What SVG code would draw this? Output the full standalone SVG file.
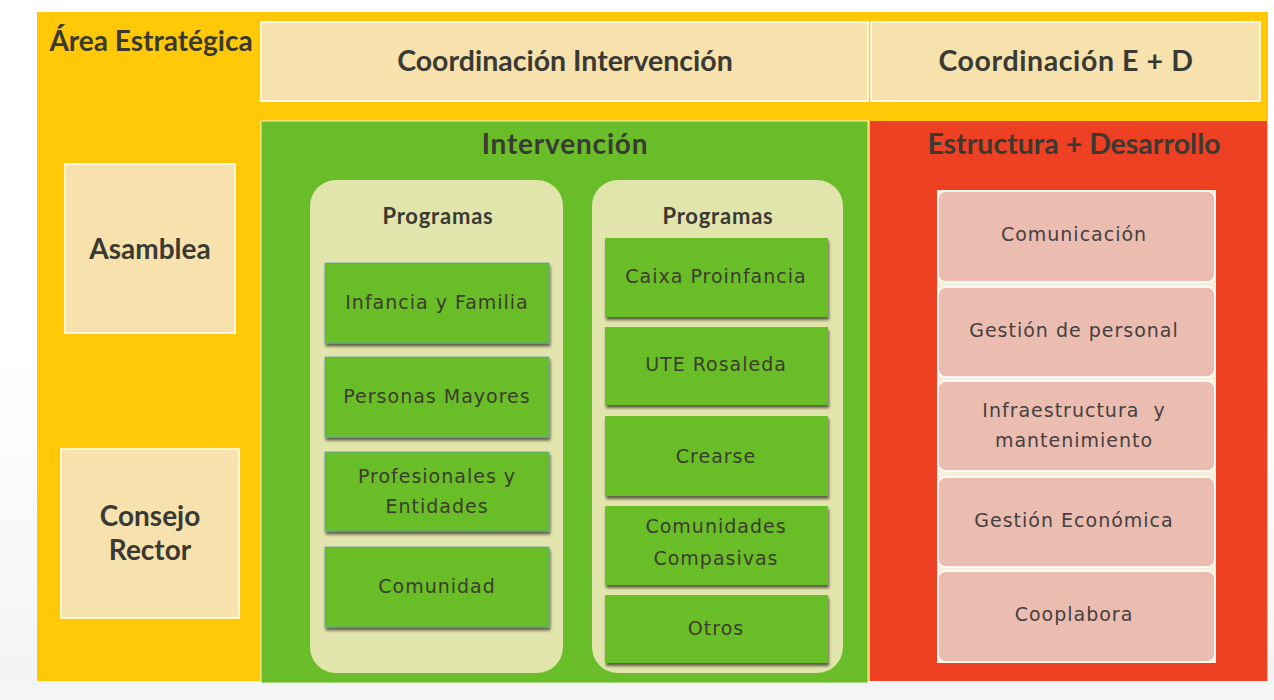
<svg xmlns="http://www.w3.org/2000/svg" width="1274" height="700" viewBox="0 0 1274 700">
<defs>
<filter id="sh" x="-10%" y="-10%" width="125%" height="130%">
<feGaussianBlur in="SourceAlpha" stdDeviation="1.5"/>
<feOffset dx="1" dy="3" result="b"/>
<feComponentTransfer><feFuncA type="linear" slope="0.6"/></feComponentTransfer>
<feMerge><feMergeNode/><feMergeNode in="SourceGraphic"/></feMerge>
</filter>
<linearGradient id="bg" x1="0" y1="0" x2="0" y2="1">
<stop offset="0" stop-color="#ffffff"/>
<stop offset="0.5" stop-color="#ffffff"/>
<stop offset="1" stop-color="#f3f3f3"/>
</linearGradient>
</defs>
<style>
.hd{font-family:Lato,"Open Sans",sans-serif;font-weight:bold;fill:#3a3a33;text-anchor:middle}
.bx{font-family:"DejaVu Sans",Verdana,sans-serif;fill:#3a3d2c;text-anchor:middle;font-size:19px;letter-spacing:1px}
.rb{font-family:"DejaVu Sans",Verdana,sans-serif;fill:#454040;text-anchor:middle;font-size:19px;letter-spacing:1px}
.cream{fill:#f7e2ae;stroke:#ffffff;stroke-width:1.5}
.gbox{fill:#69bd28;stroke:#5f9fb0;stroke-width:0.8;filter:url(#sh)}
.panel{fill:#e2e5ab}
.rbox{fill:#ebbcb0;stroke:#ffffff;stroke-width:1.5}
</style>
<rect x="0" y="0" width="1274" height="700" fill="url(#bg)"/>
<rect x="0" y="683" width="1274" height="17" fill="#f5f5f5"/>
<g id="frame">
<rect x="37" y="12" width="1231" height="669" fill="#ffc907"/>
</g>
<g id="area-estrategica">
<text class="hd" x="151" y="51" font-size="28">Área Estratégica</text>
</g>
<g id="coord-intervencion">
<rect class="cream" x="261" y="22" width="607" height="79"/>
<text class="hd" x="565" y="71" font-size="28.5">Coordinación Intervención</text>
</g>
<g id="coord-ed">
<rect class="cream" x="871" y="22" width="389" height="79"/>
<text class="hd" x="1066" y="71" font-size="28.5" letter-spacing="0.6">Coordinación E + D</text>
</g>
<g id="asamblea">
<rect class="cream" x="65" y="164" width="170" height="169"/>
<text class="hd" x="150" y="259" font-size="28">Asamblea</text>
</g>
<g id="consejo-rector">
<rect class="cream" x="61" y="449" width="178" height="169"/>
<text class="hd" x="150" y="526" font-size="28">Consejo</text>
<text class="hd" x="150" y="560" font-size="28">Rector</text>
</g>
<g id="intervencion">
<rect x="261" y="121" width="607" height="562" fill="#69bd28" stroke="#e8f5d8" stroke-width="1"/>
<text class="hd" x="565" y="154" font-size="28" letter-spacing="0.8">Intervención</text>
</g>
<g id="programas-1">
<rect class="panel" x="310" y="180" width="253" height="493" rx="26"/>
<text class="hd" x="438" y="224" font-size="22" letter-spacing="0.8">Programas</text>
</g>
<g id="programas-2">
<rect class="panel" x="592" y="180" width="251" height="493" rx="26"/>
<text class="hd" x="718" y="224" font-size="22" letter-spacing="0.8">Programas</text>
</g>
<g id="infancia"><rect class="gbox" x="325" y="263" width="224" height="80"/><text class="bx" x="437" y="309">Infancia y Familia</text></g>
<g id="mayores"><rect class="gbox" x="325" y="357" width="224" height="80"/><text class="bx" x="437" y="403">Personas Mayores</text></g>
<g id="profesionales"><rect class="gbox" x="325" y="452" width="224" height="79"/><text class="bx" x="437" y="483">Profesionales y</text><text class="bx" x="437" y="513">Entidades</text></g>
<g id="comunidad"><rect class="gbox" x="325" y="547" width="224" height="80"/><text class="bx" x="437" y="593">Comunidad</text></g>
<g id="caixa"><rect class="gbox" x="605" y="238" width="223" height="79" style="stroke:none"/><text class="bx" x="716" y="283">Caixa Proinfancia</text></g>
<g id="ute"><rect class="gbox" x="605" y="327" width="223" height="78" style="stroke:none"/><text class="bx" x="716" y="371">UTE Rosaleda</text></g>
<g id="crearse"><rect class="gbox" x="605" y="416" width="223" height="80" style="stroke:none"/><text class="bx" x="716" y="463">Crearse</text></g>
<g id="compasivas"><rect class="gbox" x="605" y="506" width="223" height="79" style="stroke:none"/><text class="bx" x="716" y="533">Comunidades</text><text class="bx" x="716" y="565">Compasivas</text></g>
<g id="otros"><rect class="gbox" x="605" y="595" width="223" height="68" style="stroke:none"/><text class="bx" x="716" y="635">Otros</text></g>
<g id="estructura">
<rect x="870" y="121" width="397" height="560" fill="#ee4123"/>
<text class="hd" x="1074" y="154" font-size="28.5">Estructura + Desarrollo</text>
<rect x="937" y="190" width="279" height="473" fill="#f3f1dc"/>
</g>
<g id="comunicacion"><rect class="rbox" x="938" y="191" width="277" height="91" rx="8"/><text class="rb" x="1074" y="241">Comunicación</text></g>
<g id="personal"><rect class="rbox" x="938" y="287" width="277" height="90" rx="8"/><text class="rb" x="1074" y="337">Gestión de personal</text></g>
<g id="infraestructura"><rect class="rbox" x="938" y="381" width="277" height="90" rx="8"/><text class="rb" x="1074" y="417">Infraestructura&#160; y</text><text class="rb" x="1074" y="447">mantenimiento</text></g>
<g id="economica"><rect class="rbox" x="938" y="477" width="277" height="90" rx="8"/><text class="rb" x="1074" y="527">Gestión Económica</text></g>
<g id="cooplabora"><rect class="rbox" x="938" y="571" width="277" height="91" rx="8"/><text class="rb" x="1074" y="621">Cooplabora</text></g>
<g id="connectors"/>
</svg>
